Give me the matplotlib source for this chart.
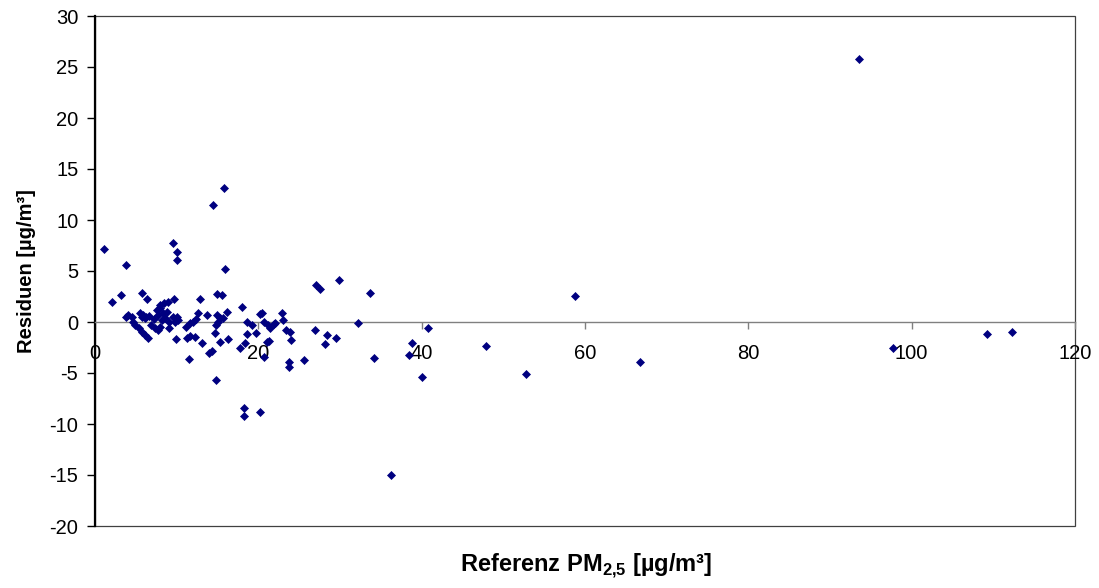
import matplotlib
matplotlib.use("Agg")
import matplotlib.pyplot as plt
from matplotlib.patches import Rectangle

plt.rcParams['font.family'] = ['Liberation Sans', 'DejaVu Sans']
plt.rcParams['mathtext.fontset'] = 'custom'
plt.rcParams['mathtext.rm'] = 'Liberation Sans'
plt.rcParams['mathtext.bf'] = 'Liberation Sans:bold'
plt.rcParams['axes.unicode_minus'] = False

# reference PM2.5 [ug/m3]
referenz = [
    1.1, 3.8, 9.5, 10.1, 10.1, 14.5, 15.8, 15.9,
    2.1, 3.2, 5.7, 6.4, 8.0, 8.4, 8.9, 9.7, 12.9, 14.9, 15.6, 18.0, 20.2,
    4.1, 4.5, 3.8, 4.7, 4.9, 5.5, 5.7, 5.9, 6.1, 6.3, 6.6,
    5.4, 5.7, 6.1, 6.5, 6.85, 7.2, 7.55, 7.75, 8.0, 8.16, 8.37, 8.57, 8.78,
    7.35, 7.75, 8.0, 9.0, 9.0, 9.5, 9.8, 10.07, 10.2, 9.9,
    11.2, 11.6, 12.0, 12.4, 12.65, 13.7, 11.3, 11.6, 12.2, 13.1, 11.55,
    13.9, 14.3, 14.9, 15.1, 14.8, 14.7, 15.3, 15.7, 16.2, 15.3, 16.3, 14.8,
    18.6, 19.2, 18.65, 18.4, 17.7, 19.7, 18.2, 18.2, 20.2,
    20.5, 20.7, 21.2, 21.4, 21.9, 22.1, 21.0, 21.3, 20.7,
    22.85, 23.06, 23.4, 23.9, 23.96, 23.76, 23.7, 25.6, 26.9, 27.1, 27.5,
    28.45, 28.2, 29.46, 29.9, 32.2, 33.7, 34.2, 38.8, 38.45, 40.8, 40.1,
    36.2, 47.9, 52.8, 58.8, 66.7, 93.5, 97.7, 109.2, 112.3,
]
# residuals [ug/m3]
residuen = [
    7.16, 5.62, 7.71, 6.83, 6.08, 11.47, 13.14, 5.16,
    1.93, 2.65, 2.88, 2.3, 1.67, 1.83, 1.93, 2.25, 2.3, 2.75, 2.65, 1.44, 0.78,
    0.69, 0.52, 0.46, 0.03, -0.29, 0.85, 0.52, 0.69, 0.36, 0.52, 0.59,
    -0.62, -0.95, -1.27, -1.6, -0.29, 0.26, 1.18, 0.69, 1.34, 0.2, 0.85, 0.36, 1.01,
    -0.62, -0.78, -0.46, -0.62, 0.03, 0.52, 0.03, 0.52, 0.2, -1.7,
    -0.46, -0.13, 0.03, 0.26, 0.91, 0.69, -1.6, -1.37, -1.44, -2.09, -3.66,
    -3.07, -2.84, 0.69, 0.03, -0.29, -1.11, 0.36, 0.36, 1.01, -1.93, -1.7, -5.69,
    0.03, -0.29, -1.18, -2.09, -2.58, -1.05, -8.46, -9.2, -8.8,
    0.85, -0.03, -0.29, -0.62, -0.2, -0.13, -1.93, -1.83, -3.4,
    0.91, 0.2, -0.78, -0.95, -1.76, -3.95, -4.44, -3.73, -0.78, 3.63, 3.2,
    -1.27, -2.16, -1.6, 4.12, -0.13, 2.88, -3.56, -2.03, -3.24, -0.56, -5.36,
    -15.0, -2.35, -5.1, 2.55, -3.9, 25.8, -2.55, -1.18, -0.98,
]

fig = plt.figure(figsize=(10.99, 5.88), dpi=100)
ax = fig.add_axes([95 / 1099, 1 - 526 / 588, 980 / 1099, 510 / 588])

ax.plot(referenz, residuen, linestyle='none', marker='D', ms=4.4,
        color='#000080', mec='#000080', mew=0.5, zorder=3)

ax.set_xlim(0, 120)
ax.set_ylim(-20, 30)
ax.set_xticks(range(0, 121, 20))
ax.set_yticks(range(-20, 31, 5))

# x axis crosses at zero
ax.spines['bottom'].set_position(('data', 0))
ax.spines['bottom'].set_color('#808080')
ax.spines['bottom'].set_linewidth(1.0)
ax.spines['left'].set_color('black')
ax.spines['left'].set_linewidth(1.6)
ax.spines['top'].set_visible(False)
ax.spines['right'].set_visible(False)
ax.add_patch(Rectangle((0, 0), 1, 1, transform=ax.transAxes, fill=False,
                       ec='#404040', lw=0.9, zorder=1, clip_on=False))

ax.tick_params(axis='x', direction='out', length=5, width=1, color='#808080',
               labelsize=14.5, pad=11)
ax.tick_params(axis='y', direction='out', length=6, width=1, color='black',
               labelsize=14.5, pad=6)

ax.set_ylabel('Residuen [µg/m³]', fontsize=14.5, fontweight='bold', labelpad=10)
fig.text(586 / 1099, 1 - 566 / 588,
         r'Referenz PM$_{\mathbf{2{,}5}}$ [µg/m³]',
         fontsize=17, fontweight='bold', ha='center', va='center')

fig.savefig('out.png', dpi=100)
